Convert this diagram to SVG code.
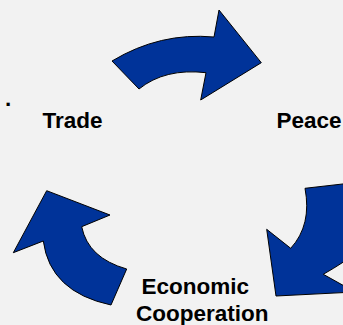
<svg xmlns="http://www.w3.org/2000/svg" width="343" height="325" viewBox="0 0 343 325">
<style>
.arrow{fill:#003399;stroke:#000;stroke-width:1;stroke-linejoin:miter}
.lbl{font-family:"Liberation Sans",Arial,sans-serif;font-weight:bold;font-size:22.5px;fill:#000}
</style>
<rect width="343" height="325" fill="#f2f2f2"/>
<g id="connectors">
<path id="arrow-top" class="arrow" d="M112,61 Q160,32 214,37 L219,10 L261.3,62.7 L200.7,100 L206,72.7 Q165,68 139,89 Z"/>
<path id="arrow-right" class="arrow" d="M305,188.3 L360,182 L360,250 Q345,262 323.3,274.3 L355,292 L276,296 L266.7,229.3 L290.7,248.3 Q312,225 305,188.3 Z"/>
<path id="arrow-left" class="arrow" d="M46.7,190.7 L110,215 L81.7,226.7 Q88,258 126.7,269 L111,305 Q50,292 43.3,241 L13.3,252.7 Z"/>
</g>
<text class="lbl" x="5" y="106" font-size="16">.</text>
<g id="node-trade"><text class="lbl" x="42.5" y="128">Trade</text></g>
<g id="node-peace"><text class="lbl" x="276.5" y="128">Peace</text></g>
<g id="node-econ"><text class="lbl" x="141.5" y="293.5">Economic</text><text class="lbl" x="136" y="320.5">Cooperation</text></g>
</svg>
